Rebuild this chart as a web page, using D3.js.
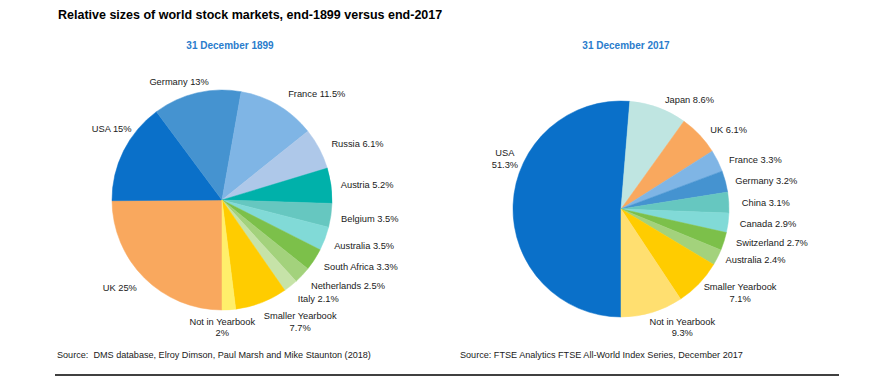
<!DOCTYPE html>
<html>
<head>
<meta charset="utf-8">
<script src="https://cdnjs.cloudflare.com/ajax/libs/d3/7.8.5/d3.min.js"></script>
<style>
  body { margin: 0; background: #fff; }
  svg text { font-family: "Liberation Sans", Arial, Helvetica, sans-serif; white-space: pre; }
</style>
</head>
<body>
<svg id="chart"></svg>
<script>
// data
var markets1899 = ["UK", "USA", "Germany", "France", "Russia", "Austria", "Belgium", "Australia",
  "South Africa", "Netherlands", "Italy", "Smaller Yearbook", "Not in Yearbook"];
var shares1899 = [25, 15, 13, 11.5, 6.1, 5.2, 3.5, 3.5, 3.3, 2.5, 2.1, 7.7, 2];

var markets2017 = ["USA", "Japan", "UK", "France", "Germany", "China", "Canada", "Switzerland",
  "Australia", "Smaller Yearbook", "Not in Yearbook"];
var shares2017 = [51.3, 8.6, 6.1, 3.3, 3.2, 3.1, 2.9, 2.7, 2.4, 7.1, 9.3];

var colors1899 = ["#f9a85e", "#0a70c9", "#4593d0", "#7fb5e5", "#aec8e9", "#00b1aa", "#66c7c0",
  "#81dad7", "#7cc04a", "#a3d27c", "#c6e3a8", "#ffcc00", "#ffef6b"];
var colors2017 = ["#0a70c9", "#bfe5e1", "#f9a85e", "#7fb5e5", "#4593d0", "#66c7c0", "#81dad7",
  "#7cc04a", "#a3d27c", "#ffcc00", "#ffdf70"];

var svgWidth = 889, svgHeight = 391;

var svg = d3.select("svg#chart")
  .attr("width", svgWidth)
  .attr("height", svgHeight);

svg.append("text")
  .attr("x", 58)
  .attr("y", 19)
  .style("font-weight", "bold")
  .style("font-size", "12.5px")
  .style("fill", "#000")
  .text("Relative sizes of world stock markets, end-1899 versus end-2017");

// little shifts so the labels sit where the original put them
var nudge1899 = {
  "UK": [-7, 1], "USA": [13, -16], "Germany": [-9, 2], "France": [20, 0], "Russia": [8, 1.5],
  "Austria": [2, 1], "Belgium": [2.5, 1.3], "Australia": [3.6, 2.6], "South Africa": [8.5, 0.3],
  "Netherlands": [13, 1.6], "Italy": [10, 3.3], "Smaller Yearbook": [23, 1.6], "Not in Yearbook": [-9, -1]
};
var nudge2017 = {
  "USA": [13, -45], "Japan": [20, 4.6], "UK": [10, 4], "France": [7, 5], "Germany": [3, 3],
  "China": [5, 1.6], "Canada": [4, -1], "Switzerland": [6, -2], "Australia": [4, -3],
  "Smaller Yearbook": [9, -4], "Not in Yearbook": [18.5, -3]
};

function drawPie(opt) {
  var g = svg.append("g")
    .attr("transform", "translate(" + opt.cx + "," + opt.cy + ")");

  svg.append("text")
    .attr("x", opt.titleX)
    .attr("y", 48.5)
    .attr("text-anchor", "middle")
    .style("font-weight", "bold")
    .style("font-size", "10px")
    .style("fill", "#2a7ccc")
    .text(opt.title);

  var rows = opt.names.map(function(d, i) { return { name: d, value: opt.values[i], color: opt.colors[i] }; });

  // excel style: first slice starts at 6 o'clock, clockwise
  var pie = d3.pie()
    .sort(null)
    .value(function(d) { return d.value; })
    .startAngle(Math.PI)
    .endAngle(3 * Math.PI);

  var arc = d3.arc()
    .innerRadius(0)
    .outerRadius(opt.r);

  var arcs = pie(rows);

  g.selectAll("path")
    .data(arcs)
    .enter().append("path")
    .attr("d", arc)
    .style("fill", function(d) { return d.data.color; })
    .style("stroke", function(d) { return d.data.color; })
    .style("stroke-width", "0.5px");

  var R = opt.r + 8;
  var labels = g.selectAll("text.lbl")
    .data(arcs)
    .enter().append("text")
    .attr("class", "lbl")
    .attr("text-anchor", "middle")
    .style("font-size", "9.3px")
    .style("fill", "#1a1a1a");

  labels.each(function(d) {
    var t = d3.select(this);
    var pct = d.data.value + "%";
    if (opt.wrap.indexOf(d.data.name) >= 0) {
      t.append("tspan").attr("x", 0).attr("dy", 0).text(d.data.name);
      t.append("tspan").attr("x", 0).attr("dy", 11.7).text(pct);
    } else {
      t.append("tspan").attr("x", 0).text(d.data.name + " " + pct);
    }
    var bb = this.getBBox();
    var a = (d.startAngle + d.endAngle) / 2;
    var s = Math.sin(a), c = Math.cos(a);
    var n = opt.nudge[d.data.name] || [0, 0];
    var px = R * s + s * bb.width / 2 + n[0];
    var py = -R * c - c * bb.height / 2 + n[1];
    var tx = px - (bb.x + bb.width / 2);
    var ty = py - (bb.y + bb.height / 2);
    t.attr("transform", "translate(" + tx + "," + ty + ")");
  });
}

drawPie({ cx: 222, cy: 200, r: 110, titleX: 230, title: "31 December 1899",
  names: markets1899, values: shares1899, colors: colors1899,
  wrap: ["Smaller Yearbook", "Not in Yearbook"], nudge: nudge1899 });

drawPie({ cx: 621, cy: 209, r: 108, titleX: 626, title: "31 December 2017",
  names: markets2017, values: shares2017, colors: colors2017,
  wrap: ["USA", "Smaller Yearbook", "Not in Yearbook"], nudge: nudge2017 });

// sources and the rule under them
svg.append("text")
  .attr("x", 57)
  .attr("y", 358)
  .style("font-size", "9.1px")
  .style("fill", "#1a1a1a")
  .text("Source:  DMS database, Elroy Dimson, Paul Marsh and Mike Staunton (2018)");

svg.append("text")
  .attr("x", 460)
  .attr("y", 358)
  .style("font-size", "9.1px")
  .style("fill", "#1a1a1a")
  .text("Source: FTSE Analytics FTSE All-World Index Series, December 2017");

svg.append("line")
  .attr("x1", 55)
  .attr("x2", 839)
  .attr("y1", 375)
  .attr("y2", 375)
  .style("stroke", "#000")
  .style("stroke-width", "1.5px");
</script>
</body>
</html>
